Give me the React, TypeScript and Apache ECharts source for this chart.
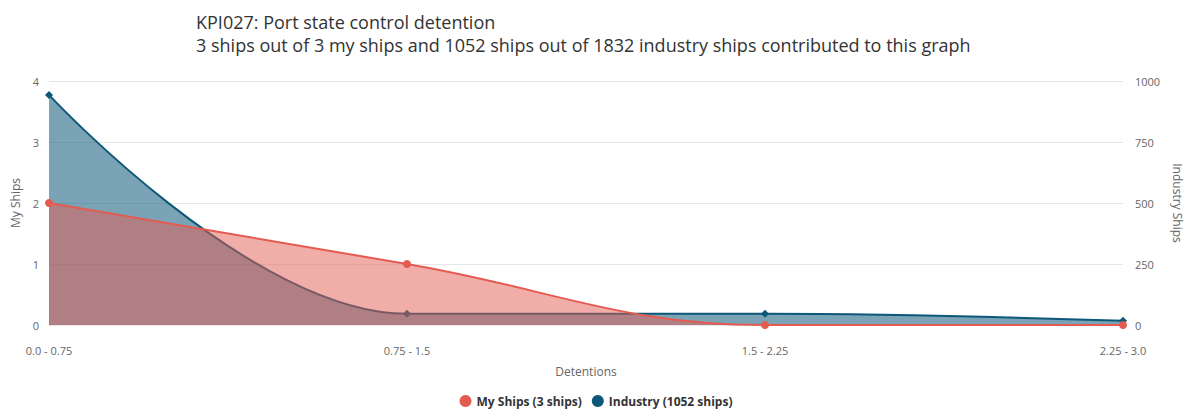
import React, { useEffect, useRef } from "react";
import * as echarts from "echarts";

const categories = ["0.0 - 0.75", "0.75 - 1.5", "1.5 - 2.25", "2.25 - 3.0"];
const myShips = [2, 1, 0, 0];
const industryShips = [943, 46, 46, 17];
const leftTicks = [0, 1, 2, 3, 4];
const rightTicks = [0, 250, 500, 750, 1000];

const RED = "#e45b52";
const BLUE = "#0d5878";
const FONT = "'Open Sans', 'DejaVu Sans', sans-serif";

export default function App() {
  const ref = useRef<HTMLDivElement>(null);
  useEffect(() => {
    document.body.style.margin = "0";
    if (!ref.current) return;
    const chart = echarts.init(ref.current, undefined, { renderer: "svg" });
    chart.setOption({
      animation: false,
      textStyle: { fontFamily: FONT },
      title: {
        text: "KPI027: Port state control detention\n3 ships out of 3 my ships and 1052 ships out of 1832 industry ships contributed to this graph",
        left: 191,
        top: 5,
        textStyle: { fontSize: 18, fontWeight: "normal", color: "#333", lineHeight: 23, fontFamily: FONT },
      },
      legend: {
        bottom: 4,
        left: "center",
        icon: "circle",
        itemWidth: 12,
        itemHeight: 12,
        itemGap: 10,
        data: ["My Ships (3 ships)", "Industry (1052 ships)"],
        textStyle: { fontSize: 12, fontWeight: "bold", color: "#333", fontFamily: FONT },
      },
      grid: { left: 49, right: 69, top: 81, bottom: 91, containLabel: false },
      xAxis: {
        type: "category",
        data: categories,
        boundaryGap: false,
        name: "Detentions",
        nameLocation: "middle",
        nameGap: 40,
        nameTextStyle: { fontSize: 12, color: "#666" },
        axisLine: { lineStyle: { color: "#e6e6e6" } },
        axisTick: { show: false },
        axisLabel: { fontSize: 11, color: "#666", margin: 20 },
      },
      yAxis: [
        {
          type: "value",
          min: leftTicks[0],
          max: leftTicks[leftTicks.length - 1],
          interval: 1,
          name: "My Ships",
          nameLocation: "middle",
          nameGap: 28,
          nameTextStyle: { fontSize: 12, color: "#666" },
          axisLine: { show: false },
          axisTick: { show: false },
          axisLabel: { fontSize: 11, color: "#666", margin: 10 },
          splitLine: { lineStyle: { color: "#e6e6e6" } },
        },
        {
          type: "value",
          min: rightTicks[0],
          max: rightTicks[rightTicks.length - 1],
          interval: 250,
          name: "Industry Ships",
          nameLocation: "middle",
          nameGap: 46,
          nameRotate: -90,
          nameTextStyle: { fontSize: 12, color: "#666" },
          axisLine: { show: false },
          axisTick: { show: false },
          axisLabel: { fontSize: 11, color: "#666", margin: 12, formatter: (v: number) => String(v) },
          splitLine: { show: false },
        },
      ],
      series: [
        {
          name: "Industry (1052 ships)",
          type: "line",
          yAxisIndex: 1,
          data: industryShips,
          smooth: 0.4,
          symbol: "diamond",
          symbolSize: 8,
          z: 2,
          itemStyle: { color: BLUE },
          lineStyle: { color: BLUE, width: 2 },
          areaStyle: { color: BLUE, opacity: 0.55 },
        },
        {
          name: "My Ships (3 ships)",
          type: "line",
          yAxisIndex: 0,
          data: myShips,
          smooth: 0.4,
          symbol: "circle",
          symbolSize: 8,
          z: 3,
          itemStyle: { color: RED },
          lineStyle: { color: RED, width: 2 },
          areaStyle: { color: RED, opacity: 0.5 },
        },
      ],
    });
    return () => chart.dispose();
  }, []);
  return <div ref={ref} style={{ width: 1192, height: 416 }} />;
}
